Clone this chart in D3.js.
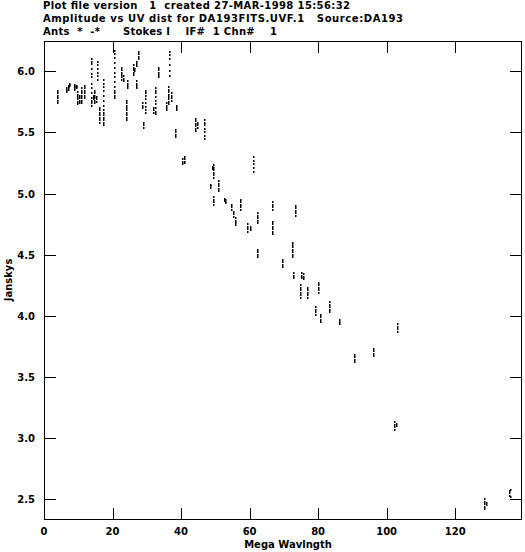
<!DOCTYPE html>
<html>
<head>
<meta charset="utf-8">
<script src="https://d3js.org/d3.v7.min.js"></script>
<style>
  body { margin: 0; background: #fff; }
  text { font-family: "DejaVu Sans", sans-serif; font-weight: bold; font-size: 10px; fill: #000; }
</style>
</head>
<body>
<div id="chart"></div>
<script>
// header lines of the plot
var titleLines = [
  "Plot file version   1  created 27-MAR-1998 15:56:32",
  "Amplitude vs UV dist for DA193FITS.UVF.1   Source:DA193",
  "Ants  *  -*      Stokes I    IF#  1 Chn#    1"
];
var titleWidths = [307, 360, 234];

var xTicks = [0, 20, 40, 60, 80, 100, 120];
var yTicks = [2.5, 3.0, 3.5, 4.0, 4.5, 5.0, 5.5, 6.0];

// each visibility streak: one uv distance (Mega wavelengths) and its amplitudes (Jy)
var streakUV = [
  3.8, 6.4, 7.0, 7.3, 8.8, 9.4, 9.6, 10.2, 10.8, 11.7,
  13.7, 14.3, 14.6, 15.2, 15.5, 16.1, 17.2, 20.4, 22.6, 23.2,
  23.9, 24.2, 26.0, 27.3, 26.8, 26.4, 26.8, 28.6, 29.5, 29.0,
  31.8, 32.4, 33.3, 35.6, 36.2, 36.4, 37.0, 38.5, 38.2, 40.3,
  40.9, 44.1, 44.6, 46.7, 48.5, 49.3, 48.9, 50.8, 49.3, 52.5,
  52.9, 54.6, 55.1, 57.2, 55.8, 59.3, 60.1, 61.0, 62.2, 62.2,
  66.6, 66.6, 69.5, 72.4, 73.3, 72.7, 75.0, 75.6, 74.7, 76.8,
  80.0, 79.1, 80.6, 83.2, 86.1, 90.5, 96.1, 103.1, 102.2, 102.7,
  128.5, 129.0, 135.6, 135.9
];
var streakAmps = [
  [5.84, 5.82, 5.80, 5.78, 5.76, 5.74],
  [5.86, 5.85, 5.84, 5.83],
  [5.88, 5.87, 5.86, 5.85],
  [5.90, 5.89, 5.88],
  [5.89, 5.88, 5.87, 5.86, 5.85],
  [5.88, 5.87, 5.86],
  [5.83, 5.81, 5.79, 5.77, 5.75, 5.73],
  [5.80, 5.78, 5.76, 5.74],
  [5.86, 5.84, 5.82, 5.80, 5.78, 5.76, 5.74],
  [5.88, 5.86, 5.84, 5.82, 5.80, 5.78],
  [6.10, 6.08, 6.06, 6.02, 5.98, 5.95, 5.90, 5.86, 5.82, 5.78, 5.76, 5.74, 5.72],
  [5.80, 5.79, 5.78, 5.77],
  [5.84, 5.82, 5.80, 5.78, 5.76, 5.74],
  [5.79, 5.77, 5.75],
  [6.08, 6.05, 6.02, 5.99, 5.96, 5.93],
  [5.70, 5.68, 5.66, 5.64, 5.62, 5.60, 5.58],
  [5.93, 5.90, 5.87, 5.84, 5.80, 5.76, 5.72, 5.68, 5.66, 5.64, 5.62, 5.60, 5.58, 5.56],
  [6.17, 6.14, 6.11, 6.07, 6.03, 5.99, 5.95, 5.91, 5.87, 5.84, 5.82, 5.80, 5.78],
  [6.03, 6.01, 5.99, 5.97, 5.95, 5.93],
  [5.96, 5.94, 5.92],
  [5.76, 5.74, 5.72, 5.70, 5.68, 5.66, 5.64, 5.62, 5.60],
  [5.92, 5.90, 5.88, 5.86],
  [6.05, 6.03, 6.01, 5.99, 5.97],
  [6.16, 6.14, 6.12, 6.10],
  [6.08, 6.06, 6.04],
  [6.02, 6.00],
  [5.92, 5.90, 5.88, 5.86],
  [5.74, 5.72, 5.70],
  [5.84, 5.82, 5.80, 5.77, 5.74, 5.71, 5.68, 5.66],
  [5.58, 5.56, 5.54],
  [5.70, 5.68, 5.66],
  [5.86, 5.84, 5.82, 5.79, 5.76, 5.73, 5.70, 5.67, 5.65],
  [6.03, 6.01, 5.99, 5.97, 5.95],
  [5.74, 5.72, 5.70, 5.68],
  [5.87, 5.85, 5.83, 5.81, 5.79, 5.77, 5.75, 5.73],
  [6.16, 6.13, 6.10, 6.05, 6.00, 5.96],
  [5.82, 5.80, 5.78, 5.76],
  [5.72, 5.70, 5.68],
  [5.52, 5.50, 5.48, 5.46],
  [5.28, 5.26, 5.24],
  [5.30, 5.28, 5.26, 5.25],
  [5.61, 5.59, 5.57, 5.55, 5.53, 5.51],
  [5.58, 5.56, 5.54],
  [5.60, 5.58, 5.56, 5.53, 5.50, 5.47, 5.45],
  [5.07, 5.06, 5.05],
  [5.23, 5.21, 5.19, 5.17, 5.15, 5.13],
  [5.22, 5.20],
  [5.10, 5.08, 5.06, 5.04, 5.02],
  [4.97, 4.95, 4.93, 4.91],
  [4.96, 4.94],
  [4.95, 4.93, 4.92],
  [4.91, 4.89, 4.87],
  [4.85, 4.83, 4.81],
  [4.95, 4.93, 4.91, 4.89, 4.87],
  [4.80, 4.78, 4.76, 4.74],
  [4.75, 4.73, 4.71, 4.69],
  [4.73, 4.71, 4.70],
  [5.30, 5.27, 5.24, 5.21, 5.18],
  [4.84, 4.82, 4.80, 4.78, 4.76],
  [4.54, 4.52, 4.50, 4.48],
  [4.93, 4.91, 4.89, 4.87],
  [4.77, 4.75, 4.73, 4.71, 4.69, 4.67],
  [4.46, 4.44, 4.42, 4.40],
  [4.60, 4.58, 4.56, 4.54, 4.52, 4.50, 4.48],
  [4.90, 4.88, 4.86, 4.84, 4.82],
  [4.35, 4.33, 4.31],
  [4.35, 4.33, 4.31],
  [4.34, 4.32, 4.30],
  [4.25, 4.23, 4.21, 4.19, 4.17, 4.15],
  [4.23, 4.21, 4.19, 4.17, 4.15],
  [4.27, 4.25, 4.23, 4.21, 4.19],
  [4.07, 4.05, 4.03, 4.01],
  [4.01, 3.99, 3.97, 3.95],
  [4.11, 4.09, 4.07, 4.05, 4.03],
  [3.97, 3.95, 3.93],
  [3.68, 3.66, 3.64, 3.62],
  [3.73, 3.71, 3.69, 3.67],
  [3.93, 3.91, 3.89, 3.87],
  [3.13, 3.11, 3.09, 3.07],
  [3.12, 3.10],
  [2.50, 2.48, 2.46, 2.44, 2.42],
  [2.47, 2.45],
  [2.57, 2.55, 2.53],
  [2.58, 2.52]
];

var W = 525, H = 552;
var frame = { left: 44, right: 522, top: 41, bottom: 520 };
var tickLen = 12;

var svg = d3.select("#chart").append("svg")
    .attr("width", W)
    .attr("height", H);

var x = d3.scaleLinear().domain([0, 139.5]).range([frame.left, frame.right]);
var y = d3.scaleLinear().domain([2.331, 6.248]).range([frame.bottom, frame.top]);

// titles
svg.selectAll(".title")
    .data(titleLines)
    .enter().append("text")
    .attr("class", "title")
    .attr("x", 43)
    .attr("y", function (d, i) { return 9 + i * 13; })
    .attr("xml:space", "preserve")
    .attr("textLength", function (d, i) { return titleWidths[i]; })
    .attr("lengthAdjust", "spacing")
    .style("white-space", "pre")
    .text(function (d) { return d; });

// frame
svg.append("rect")
    .attr("x", frame.left + 0.5)
    .attr("y", frame.top + 0.5)
    .attr("width", frame.right - frame.left - 1)
    .attr("height", frame.bottom - frame.top - 1)
    .attr("fill", "none")
    .attr("stroke", "#000")
    .attr("stroke-width", 1)
    .attr("shape-rendering", "crispEdges");

// ticks on all four sides, pointing inward
var tickG = svg.append("g")
    .attr("stroke", "#000")
    .attr("stroke-width", 1)
    .attr("shape-rendering", "crispEdges");

xTicks.forEach(function (t) {
  var px = Math.round(x(t)) + 0.5;
  tickG.append("line").attr("x1", px).attr("x2", px)
      .attr("y1", frame.bottom).attr("y2", frame.bottom - tickLen);
  tickG.append("line").attr("x1", px).attr("x2", px)
      .attr("y1", frame.top).attr("y2", frame.top + tickLen);
});
yTicks.forEach(function (t) {
  var py = Math.round(y(t)) + 0.5;
  tickG.append("line").attr("x1", frame.left).attr("x2", frame.left + tickLen)
      .attr("y1", py).attr("y2", py);
  tickG.append("line").attr("x1", frame.right).attr("x2", frame.right - tickLen)
      .attr("y1", py).attr("y2", py);
});

// tick labels
svg.selectAll(".xlab")
    .data(xTicks)
    .enter().append("text")
    .attr("x", function (d) { return x(d); })
    .attr("y", 535)
    .attr("text-anchor", "middle")
    .text(function (d) { return d; });

svg.selectAll(".ylab")
    .data(yTicks)
    .enter().append("text")
    .attr("x", 35)
    .attr("y", function (d) { return y(d) + 4; })
    .attr("text-anchor", "end")
    .text(function (d) { return d3.format(".1f")(d); });

// axis titles
svg.append("text")
    .attr("x", 288)
    .attr("y", 548)
    .attr("text-anchor", "middle")
    .text("Mega Wavlngth");

svg.append("text")
    .attr("transform", "translate(12,280) rotate(-90)")
    .attr("text-anchor", "middle")
    .text("Janskys");

// visibility points
var pts = [];
streakUV.forEach(function (uv, i) {
  streakAmps[i].forEach(function (a) { pts.push({ uv: uv, amp: a }); });
});

svg.append("g").selectAll("rect")
    .data(pts)
    .enter().append("rect")
    .attr("x", function (d) { return Math.round(x(d.uv)); })
    .attr("y", function (d) { return Math.round(y(d.amp)) - 1; })
    .attr("width", 1.5)
    .attr("height", 2)
    .attr("fill", "#000");
</script>
</body>
</html>
